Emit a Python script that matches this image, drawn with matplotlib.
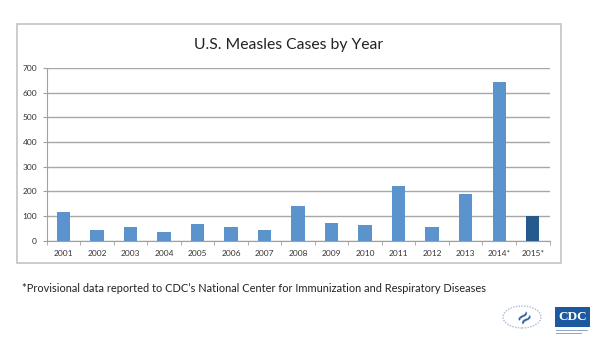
import matplotlib
matplotlib.use("Agg")
import matplotlib.pyplot as plt
from matplotlib.patches import Rectangle, Circle
import numpy as np

years = ["2001", "2002", "2003", "2004", "2005", "2006", "2007", "2008",
         "2009", "2010", "2011", "2012", "2013", "2014*", "2015*"]
cases = [116, 44, 56, 37, 66, 55, 43, 140, 71, 63, 222, 55, 189, 644, 102]
colors = ["#5b93cc"] * 14 + ["#245a8c"]
yticks = [0, 100, 200, 300, 400, 500, 600, 700]

W, H = 605, 350
fig = plt.figure(figsize=(W / 100, H / 100), dpi=100)
plt.rcParams['font.family'] = ['Lato', 'DejaVu Sans']

def fx(px): return px / W
def fy(py): return 1 - py / H

# outer chart frame
fig.patches.append(Rectangle((fx(17.3), fy(263)), fx(561) - fx(17.3), fy(24.3) - fy(263),
                             transform=fig.transFigure, fill=False, ec="#c4c4c4", lw=1.2))

ax = fig.add_axes([fx(46.7), fy(240.7), fx(549.5) - fx(46.7), fy(68) - fy(240.7)])
x = np.arange(len(years))
ax.bar(x, cases, width=0.4, color=colors, zorder=3)
ax.set_xlim(-0.5, len(years) - 0.5)
ax.set_ylim(0, 700)
ax.set_yticks(yticks)
ax.set_yticklabels([str(v) for v in yticks], fontsize=6, color="#333333")
ax.set_xticks(x)
ax.set_xticklabels(years, fontsize=6, color="#333333")
ax.tick_params(axis="x", length=0, pad=7)
ax.set_xticks(np.arange(-0.5, len(years), 1), minor=True)
ax.tick_params(axis="x", which="minor", length=3, color="#a0a0a0", direction="out")
ax.tick_params(axis="y", length=3, color="#a0a0a0", direction="out", pad=4)
ax.grid(axis="y", color="#a8a8a8", lw=1.0, zorder=0)
for s in ["top", "right"]:
    ax.spines[s].set_visible(False)
ax.spines["left"].set_color("#a0a0a0")
ax.spines["bottom"].set_color("#a0a0a0")

fig.text(fx(289), fy(45), "U.S. Measles Cases by Year", ha="center", va="center",
         fontsize=11.3, color="#222222")

fig.text(fx(21.7), fy(288), "*Provisional data reported to CDC\u2019s National Center for Immunization and Respiratory Diseases",
         ha="left", va="center", fontsize=7.9, color="#222222")

# CDC logo approximation
fig.patches.append(Rectangle((fx(555), fy(326.7)), fx(590) - fx(555), fy(306.7) - fy(326.7),
                             transform=fig.transFigure, fc="#1c5aa0", ec="none"))
fig.text(fx(572.5), fy(316.5), "CDC", ha="center", va="center", fontsize=9.5,
         color="white", family=["Liberation Serif", "DejaVu Serif"], weight="bold")
fig.patches.append(Rectangle((fx(556), fy(331)), fx(588) - fx(556), 1.0 / H,
                             transform=fig.transFigure, fc="#8aa8cc", ec="none"))
fig.patches.append(Rectangle((fx(556), fy(333.5)), fx(582) - fx(556), 1.0 / H,
                             transform=fig.transFigure, fc="#8aa8cc", ec="none"))

# HHS logo approximation
fig.patches.append(Circle((fx(522), fy(317)), 19 / W, transform=fig.transFigure,
                          fill=False, ec="#a9bcd6", lw=1.0, ls=(0, (1, 1))))
fig.text(fx(525), fy(317), "\u2248", ha="center", va="center", fontsize=20,
         color="#2d5f9a", rotation=45)

fig.savefig("out.png", dpi=100, facecolor="white")
